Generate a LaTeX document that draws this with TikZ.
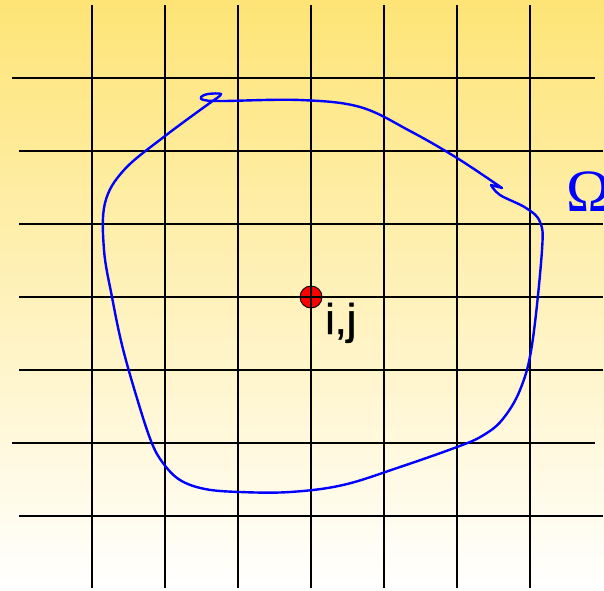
\documentclass[tikz,border=0pt]{standalone}
\usepackage{fontspec}
\newfontfamily\labelfont{Liberation Sans}[FakeBold=1]
\newfontfamily\omegafont{Liberation Serif}
\usetikzlibrary{positioning}

\begin{document}
\begin{tikzpicture}[x=1pt,y=-1pt,
  gridline/.style={line width=2.8pt,black},
  contour/.style={line width=2.4pt,blue,line join=round},
  point/.style={circle,draw=black,line width=0.9pt,fill=red,minimum size=22pt,inner sep=0pt}]
  \useasboundingbox (0,0) rectangle (604,590);
  \clip (0,0) rectangle (604,590);
  \shade[top color={rgb,255:red,254;green,228;blue,118},bottom color=white] (0,0) rectangle (604,590);
  \foreach \x in {92,165,...,530}
    \draw[gridline] (\x,5) -- (\x,588);
  \foreach \y/\a/\b in {78/12/595,151/19/603,224/19/603,297/19/603,370/19/603,443/12/595,516/19/603}
    \draw[gridline] (\a,\y) -- (\b,\y);
  \draw[contour] plot[smooth,tension=0.6] coordinates {(214,100) (165,136) (124,170) (105,203)
      (104,250) (112,297) (122,345) (136,395) (151,441) (163,463) (180,480) (205,489) (240,492)
      (290,492) (343,485) (400,467) (457,447) (482,436) (502,420) (520,390) (532,345) (542,250)
      (540,222) (526,208) (500,195) (491,185)}
    -- (502,188)
    -- plot[smooth,tension=0.6] coordinates {(502,188) (457,158) (410,131) (360,107) (300,100)
      (222,101) (204,100) (201,97) (208,94) (221,94) (214,100)}
    -- cycle;
  \node[point] (ij) at (311,297) {};
  \draw[line width=1.3pt] (ij.north) -- (ij.south) (ij.west) -- (ij.east);
  \node[font=\labelfont\fontsize{43}{48}\selectfont,anchor=base west,inner sep=0pt] (ijlabel) at (325,334) {i,j};
  \node[blue,font=\omegafont\fontsize{60}{66}\selectfont,anchor=base west,inner sep=0pt] (omega) at (566,211) {Ω};
\end{tikzpicture}
\end{document}
